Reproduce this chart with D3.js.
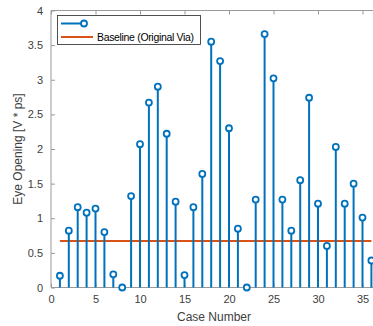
<!DOCTYPE html>
<html>
<head>
<meta charset="utf-8">
<script src="https://cdn.jsdelivr.net/npm/d3@7"></script>
<style>
  html, body { margin: 0; padding: 0; background: #fff; }
  svg { display: block; }
  text { font-family: "Liberation Sans", Arial, Helvetica, sans-serif; }
</style>
</head>
<body>
<div id="chart"></div>
<script>
const caseNumbers = d3.range(1, 37);
const eyeOpening = [0.17, 0.82, 1.16, 1.08, 1.14, 0.80, 0.19, 0.00, 1.32, 2.07,
                    2.67, 2.90, 2.22, 1.24, 0.18, 1.16, 1.64, 3.55, 3.27, 2.30,
                    0.85, 0.00, 1.27, 3.66, 3.02, 1.27, 0.82, 1.55, 2.74, 1.21,
                    0.60, 2.03, 1.21, 1.50, 1.01, 0.39];
const baselineValue = 0.67;
const xTicks = [0, 5, 10, 15, 20, 25, 30, 35];
const yTicks = [0, 0.5, 1, 1.5, 2, 2.5, 3, 3.5, 4];
const legendLabels = ["", "Baseline (Original Via)"];
const xLabel = "Case Number";
const yLabel = "Eye Opening [V * ps]";

(function () {
const W = 373, H = 326;
const pLeft = 51, pTop = 10.5, pBottom = 287.5;
const x = d3.scaleLinear().domain([0, 40]).range([pLeft, pLeft + 40 * 8.9]);
const y = d3.scaleLinear().domain([0, 4]).range([pBottom, pTop]);

const blue = "#0072BD", orange = "#D95319", gridCol = "#9a9a9a";

const svg = d3.select("#chart").append("svg").attr("width", W).attr("height", H);

// axes box lines
svg.append("line").attr("x1", pLeft).attr("x2", W + 5).attr("y1", pTop).attr("y2", pTop)
  .attr("stroke", gridCol).attr("stroke-width", 1);
svg.append("line").attr("x1", pLeft).attr("x2", W + 5).attr("y1", pBottom).attr("y2", pBottom)
  .attr("stroke", gridCol).attr("stroke-width", 1);
svg.append("line").attr("x1", pLeft).attr("x2", pLeft).attr("y1", pTop).attr("y2", pBottom)
  .attr("stroke", gridCol).attr("stroke-width", 1);

// x axis (bottom) with inward ticks
const xAxis = d3.axisBottom(x).tickValues(xTicks).tickSize(-4).tickPadding(8).tickFormat(d3.format("d"));
const gx = svg.append("g").attr("transform", `translate(0,${pBottom})`).call(xAxis);
gx.select(".domain").remove();
gx.selectAll(".tick line").attr("stroke", gridCol);
gx.selectAll("text").attr("fill", "#404040").style("font-size", "11px");

// top ticks
const gxt = svg.append("g").attr("transform", `translate(0,${pTop})`)
  .call(d3.axisTop(x).tickValues(xTicks).tickSize(-4).tickFormat(""));
gxt.select(".domain").remove();
gxt.selectAll(".tick line").attr("stroke", gridCol);

// y axis
const yAxis = d3.axisLeft(y).tickValues(yTicks).tickSize(-4).tickPadding(8).tickFormat(d => String(d));
const gy = svg.append("g").attr("transform", `translate(${pLeft},0)`).call(yAxis);
gy.select(".domain").remove();
gy.selectAll(".tick line").attr("stroke", gridCol);
gy.selectAll("text").attr("fill", "#404040").style("font-size", "11px");

// labels
svg.append("text").attr("x", 214).attr("y", 321).attr("text-anchor", "middle")
  .attr("fill", "#404040").style("font-size", "12px").text(xLabel);
svg.append("text").attr("transform", `translate(22,${(pTop + pBottom) / 2}) rotate(-90)`)
  .attr("text-anchor", "middle").attr("fill", "#404040").style("font-size", "12px").text(yLabel);

// baseline
svg.append("line").attr("x1", x(1)).attr("x2", x(36))
  .attr("y1", y(baselineValue)).attr("y2", y(baselineValue))
  .attr("stroke", orange).attr("stroke-width", 2);

// stems
const data = caseNumbers.map((c, i) => ({ c, v: eyeOpening[i] }));
svg.append("g").selectAll("line").data(data).join("line")
  .attr("x1", d => x(d.c)).attr("x2", d => x(d.c))
  .attr("y1", y(0)).attr("y2", d => y(d.v))
  .attr("stroke", blue).attr("stroke-width", 2);
svg.append("g").selectAll("circle").data(data).join("circle")
  .attr("cx", d => x(d.c)).attr("cy", d => y(d.v)).attr("r", 3)
  .attr("fill", "#fff").attr("stroke", blue).attr("stroke-width", 1.8);

// legend
const lg = svg.append("g");
lg.append("rect").attr("x", 57.5).attr("y", 15.5).attr("width", 143).attr("height", 29)
  .attr("fill", "#fff").attr("stroke", "#262626").attr("stroke-width", 0.8);
lg.append("line").attr("x1", 61).attr("x2", 84).attr("y1", 23.5).attr("y2", 23.5)
  .attr("stroke", blue).attr("stroke-width", 2);
lg.append("circle").attr("cx", 84).attr("cy", 23.5).attr("r", 3)
  .attr("fill", "#fff").attr("stroke", blue).attr("stroke-width", 1.8);
lg.append("line").attr("x1", 61).attr("x2", 93).attr("y1", 37).attr("y2", 37)
  .attr("stroke", orange).attr("stroke-width", 2);
lg.append("text").attr("x", 97).attr("y", 40.5).style("font-size", "10.5px").attr("fill", "#000")
  .attr("textLength", 97).attr("lengthAdjust", "spacing").text(legendLabels[1]);
})();
</script>
</body>
</html>
